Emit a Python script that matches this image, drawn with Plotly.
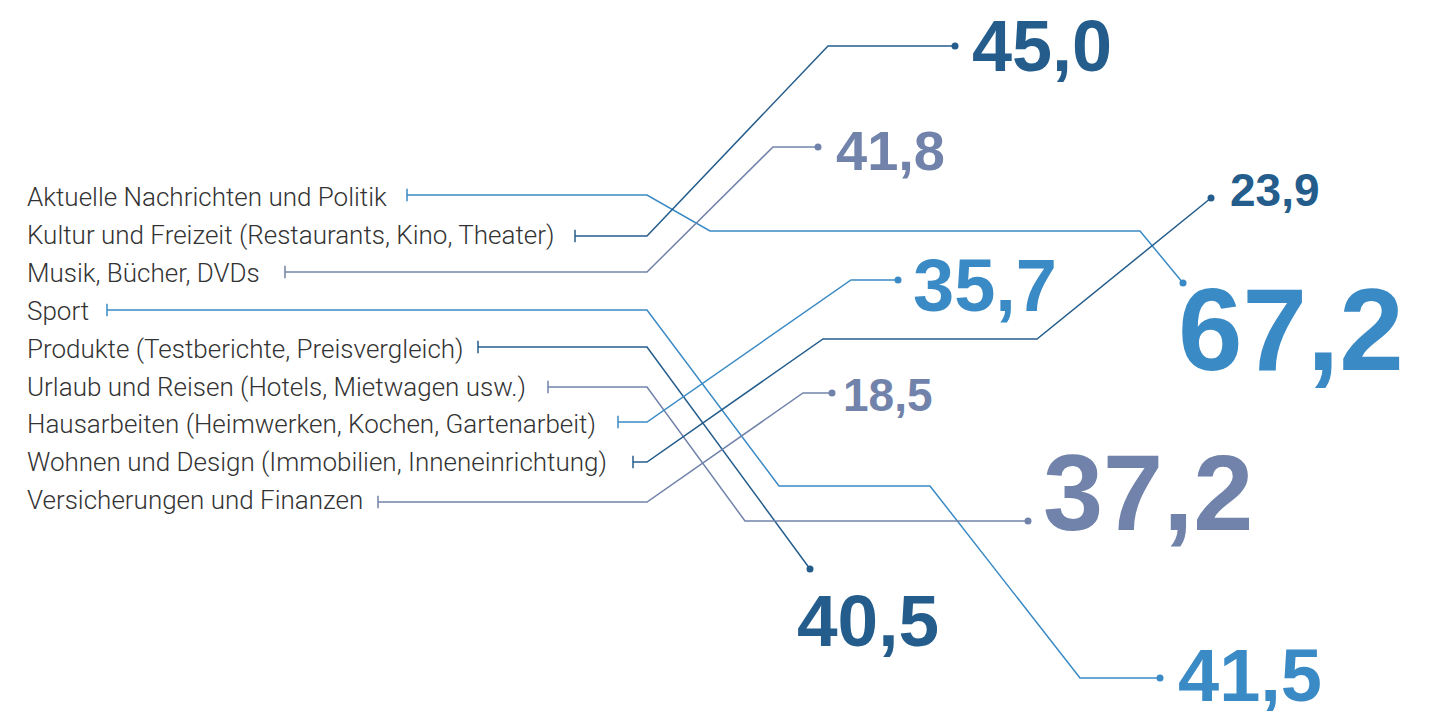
"""
Infografik: Kategorien links, Werte als große Zahlen rechts, verbunden durch Linien
"""

import plotly.graph_objects as go

# Daten
categories = [
    "Aktuelle Nachrichten und Politik",
    "Kultur und Freizeit (Restaurants, Kino, Theater)",
    "Musik, Bücher, DVDs",
    "Sport",
    "Produkte (Testberichte, Preisvergleich)",
    "Urlaub und Reisen (Hotels, Mietwagen usw.)",
    "Hausarbeiten (Heimwerken, Kochen, Gartenarbeit)",
    "Wohnen und Design (Immobilien, Inneneinrichtung)",
    "Versicherungen und Finanzen",
]
values = [67.2, 45.0, 41.8, 41.5, 40.5, 37.2, 35.7, 23.9, 18.5]

# Layout (Pixelraster 1431 x 711)
W, H = 1431, 711
PAGE_OFFSET = 8  # Standardrand des <body> im Browser
LABEL_X = 25
BEND_X = 647
label_y = [197, 235, 273, 311, 349, 387, 424, 462, 500]
row_y = [195, 236, 272, 310, 347, 387, 422, 462, 502]
tick_x = [407, 575, 285, 107, 478, 548, 618, 633, 378]
# Zwischenpunkte nach dem Knick, letzter Punkt = Endpunkt (Punkt)
routes = [
    [(710, 231), (1140, 231), (1183, 283)],
    [(828, 46), (955, 46)],
    [(773, 147), (818, 147)],
    [(779, 486), (930, 486), (1080, 678), (1160, 678)],
    [(810, 569)],
    [(745, 521), (1028, 521)],
    [(851, 280), (898, 280)],
    [(823, 339), (1037, 339), (1211, 198)],
    [(803, 393), (832, 393)],
]
# Position der Zahl (links, Mitte der Ziffern) und Schriftgröße
num_pos = [(1176, 330), (970, 46), (834, 150), (1176, 675), (795, 620),
           (1041, 492), (911, 285), (1228, 190), (841, 395)]
num_size = [116, 72, 56, 74, 73, 108, 74, 46, 46]

LIGHT, DARK, GREY = "#3a8ac5", "#245d8c", "#7183aa"
colors = [LIGHT, DARK, GREY] * 3

fig = go.Figure()

for i, cat in enumerate(categories):
    xs = [tick_x[i], BEND_X] + [p[0] for p in routes[i]]
    ys = [row_y[i], row_y[i]] + [p[1] for p in routes[i]]
    fig.add_trace(go.Scatter(x=xs, y=ys, mode="lines",
                             line=dict(color=colors[i], width=1.5),
                             hoverinfo="skip"))
    # Anfangsstrich und Endpunkt
    fig.add_trace(go.Scatter(x=[tick_x[i]], y=[row_y[i]], mode="markers",
                             marker=dict(symbol="line-ns", size=9,
                                         line=dict(color=colors[i], width=1.5)),
                             hoverinfo="skip"))
    fig.add_trace(go.Scatter(x=[xs[-1]], y=[ys[-1]], mode="markers",
                             marker=dict(symbol="circle", size=7, color=colors[i]),
                             hoverinfo="skip"))

    fig.add_annotation(x=LABEL_X, y=label_y[i], text=cat, showarrow=False,
                       xanchor="left", yanchor="middle",
                       font=dict(family="Roboto", size=26, color="#333333", weight=300))
    fig.add_annotation(x=num_pos[i][0], y=num_pos[i][1],
                       text=f"{values[i]:.1f}".replace(".", ","), showarrow=False,
                       xanchor="left", yanchor="middle",
                       font=dict(family="Liberation Sans", size=num_size[i],
                                 color=colors[i], weight="bold"))

fig.update_layout(
    width=W, height=H,
    margin=dict(l=0, r=0, t=0, b=0),
    plot_bgcolor="white", paper_bgcolor="white",
    showlegend=False,
)
fig.update_xaxes(range=[PAGE_OFFSET, W + PAGE_OFFSET], visible=False, fixedrange=True)
fig.update_yaxes(range=[H + PAGE_OFFSET, PAGE_OFFSET], visible=False, fixedrange=True)

fig.write_html("out.html")
